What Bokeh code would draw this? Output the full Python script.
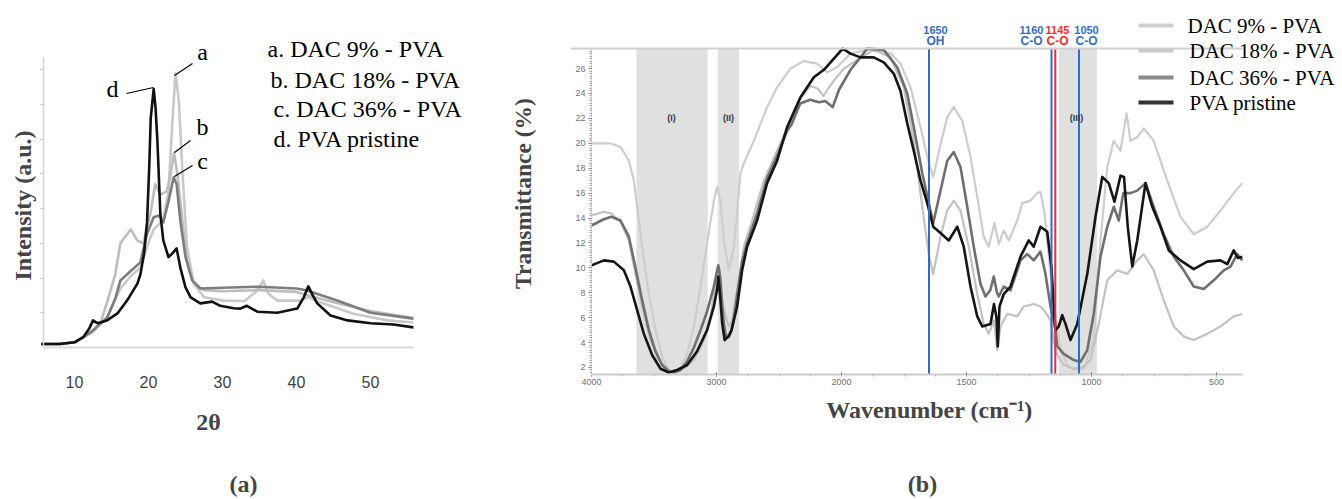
import numpy as np
from bokeh.plotting import figure
from bokeh.models import Range1d, Label, BoxAnnotation, FixedTicker, LinearAxis
from bokeh.layouts import row
from bokeh.embed import file_html
from bokeh.resources import INLINE

# ---------------- XRD data (panel a) ----------------
xrd_a_x = [5.5, 8, 10, 11.2, 12.5, 14.4, 16.2, 17.6, 18.9, 19.8, 20.7, 21.4, 22.0, 22.7, 23.2,
           23.65, 24.1, 24.6, 25.2, 26.1, 27.5, 30, 33, 34.7, 35.5, 36.2, 37.4, 40.5, 41.6,
           43.2, 47.7, 52.3, 55.8]
xrd_a_y = [0.1, 0.1, 0.15, 0.3, 0.5, 0.85, 1.7, 2.05, 2.3, 2.9, 3.4, 3.55, 3.7, 4.5, 6.4,
           7.9, 7.1, 5.0, 2.9, 1.85, 1.45, 1.35, 1.34, 1.64, 1.93, 1.55, 1.35, 1.35, 1.45,
           1.3, 0.97, 0.78, 0.72]
xrd_b_x = [5.5, 8, 10, 11.2, 12.5, 13.5, 14.4, 15.5, 16.2, 16.9, 17.6, 18.5, 19.3, 20.3, 20.9,
           21.6, 22.5, 23.0, 23.45, 23.9, 24.6, 25.2, 26.1, 27.5, 30, 35, 40, 41.6, 45, 50, 55.8]
xrd_b_y = [0.1, 0.1, 0.15, 0.3, 0.45, 0.7, 1.3, 2.1, 3.0, 3.2, 3.4, 3.08, 3.0, 3.9, 4.7,
           4.4, 4.5, 5.0, 5.6, 5.0, 3.6, 2.5, 1.85, 1.65, 1.62, 1.65, 1.6, 1.5, 1.3, 1.05, 0.85]
xrd_c_x = [5.5, 8, 10, 11.2, 12.5, 14.4, 15.5, 16.2, 17.6, 18.9, 19.8, 20.7, 21.4, 22.0, 22.7,
           23.4, 23.8, 24.3, 25.0, 25.9, 27.0, 30, 35, 40, 41.3, 45.5, 50, 55.8]
xrd_c_y = [0.1, 0.1, 0.15, 0.3, 0.49, 0.86, 1.4, 1.93, 2.2, 2.45, 3.27, 3.75, 3.8, 3.6, 4.2,
           4.9, 4.7, 3.65, 2.6, 1.93, 1.7, 1.72, 1.75, 1.7, 1.65, 1.35, 1.0, 0.83]
xrd_d_x = [5.5, 8, 10, 11.2, 12.0, 12.5, 13.1, 14.4, 15.8, 17.1, 18.5, 18.9, 19.4, 19.8, 20.1,
           20.3, 20.7, 20.95, 21.2, 21.6, 22.0, 22.7, 23.2, 23.8, 24.3, 25.0, 25.7, 27.0, 28.6,
           29.7, 31.5, 32.4, 33.3, 34.7, 37.4, 40.1, 41.0, 41.6, 42.2, 42.8, 44.6, 46.9, 50,
           53.1, 55.8]
xrd_d_y = [0.1, 0.1, 0.15, 0.3, 0.55, 0.78, 0.7, 0.78, 0.98, 1.35, 1.84, 2.1, 2.7, 3.6, 5.2,
           6.6, 7.44, 6.9, 5.96, 3.85, 3.08, 2.6, 2.7, 2.85, 2.3, 1.73, 1.44, 1.27, 1.32,
           1.2, 1.13, 1.12, 1.2, 1.03, 1.0, 1.12, 1.45, 1.76, 1.5, 1.27, 0.92, 0.78, 0.7,
           0.66, 0.58]
xrd_ticks = [10, 20, 30, 40, 50]
xrd_curve_tags = ["a", "b", "c", "d"]
xrd_legend = ["a. DAC 9% - PVA", "b. DAC 18% - PVA", "c. DAC 36% - PVA", "d. PVA pristine"]

# ---------------- FTIR data (panel b) ----------------
ftir9_w = [4000, 3900, 3848, 3768, 3701, 3661, 3635, 3595, 3541, 3488, 3435, 3381, 3341, 3288,
           3235, 3181, 3128, 3075, 3021, 2995, 2968, 2941, 2901, 2861, 2835, 2808, 2781, 2701,
           2595, 2515, 2408, 2301, 2195, 2115, 2035, 1964, 1871, 1804, 1764, 1724, 1684, 1657,
           1633, 1604, 1577, 1551, 1517, 1484, 1457, 1431, 1411, 1388, 1371, 1351, 1331, 1297,
           1277, 1244, 1217, 1204, 1188, 1164, 1144, 1124, 1097, 1071, 1031, 991, 964, 937,
           911, 884, 860, 844, 817, 791, 751, 697, 644, 591, 537, 484, 431, 397]
ftir9_t = [20.0, 20.0, 20.0, 19.7, 18.6, 17.0, 14.9, 11.7, 7.9, 5.0, 2.86, 1.8, 1.65, 1.9,
           3.1, 5.3, 8.5, 12.0, 15.4, 16.5, 15.4, 12.2, 9.8, 11.7, 14.4, 17.6, 18.4, 20.2,
           22.9, 24.5, 26.0, 26.6, 26.4, 25.7, 26.1, 27.2, 27.6, 27.2, 26.4, 24.5, 21.3, 18.9,
           17.3, 19.9, 22.1, 22.9, 21.8, 18.9, 15.7, 12.5, 11.7, 13.6, 11.9, 13.0, 12.2, 13.8,
           15.2, 15.4, 16.0, 16.1, 14.4, 9.5, 6.3, 3.4, 2.2, 1.8, 1.9, 4.2, 12.2, 18.1,
           20.2, 19.4, 22.4, 20.2, 20.5, 21.2, 20.2, 17.0, 14.1, 12.7, 13.3, 14.6, 16.0, 16.8]
ftir18_w = [4000, 3901, 3848, 3768, 3701, 3648, 3595, 3528, 3461, 3395, 3341, 3261, 3181, 3101,
            3048, 2995, 2976, 2955, 2928, 2901, 2875, 2835, 2781, 2715, 2621, 2515, 2400, 2330,
            2250, 2190, 2145, 2100, 2040, 1990, 1937, 1871, 1804, 1751, 1711, 1677, 1651, 1633,
            1604, 1577, 1551, 1524, 1491, 1457, 1431, 1411, 1391, 1377, 1364, 1337, 1297, 1271,
            1231, 1204, 1190, 1164, 1150, 1137, 1111, 1071, 1031, 1004, 971, 937, 897, 857,
            817, 791, 751, 711, 671, 631, 591, 537, 484, 431, 397]
ftir18_t = [14.2, 14.5, 14.4, 13.7, 12.2, 9.5, 6.9, 4.2, 2.6, 1.8, 1.65, 1.9, 2.6, 4.2,
            6.1, 9.5, 9.8, 7.4, 6.1, 5.3, 5.8, 8.2, 11.7, 13.8, 17.0, 19.4, 22.0, 23.6,
            24.6, 24.4, 23.8, 24.5, 25.3, 26.0, 26.7, 27.5, 26.9, 24.5, 20.2, 14.9, 11.1, 9.5,
            12.5, 14.6, 15.4, 14.6, 11.7, 7.9, 5.5, 4.7, 5.8, 3.4, 5.3, 6.3, 6.1, 6.9,
            7.1, 6.9, 6.6, 5.8, 4.0, 3.0, 2.2, 1.9, 2.05, 2.6, 5.5, 9.0, 9.8, 9.5,
            10.6, 11.1, 9.8, 7.4, 5.3, 4.5, 4.2, 4.7, 5.3, 6.1, 6.3]
ftir36_w = [4000, 3901, 3841, 3768, 3701, 3648, 3595, 3541, 3488, 3435, 3381, 3341, 3288, 3235,
            3181, 3128, 3075, 3021, 2995, 2985, 2968, 2955, 2941, 2925, 2901, 2880, 2861, 2835,
            2795, 2755, 2675, 2595, 2515, 2435, 2400, 2330, 2250, 2180, 2130, 2070, 2020, 1964,
            1924, 1897, 1831, 1777, 1737, 1711, 1677, 1633, 1604, 1577, 1551, 1524, 1497, 1471,
            1444, 1424, 1405, 1391, 1378, 1371, 1351, 1324, 1284, 1257, 1231, 1204, 1184, 1164,
            1144, 1137, 1111, 1071, 1044, 1017, 991, 964, 937, 911, 891, 873, 844, 817, 784,
            751, 711, 671, 631, 591, 551, 511, 471, 444, 417, 397]
ftir36_t = [13.4, 13.9, 14.1, 13.8, 12.5, 10.0, 7.4, 5.0, 3.3, 2.2, 1.7, 1.6, 1.8, 2.5,
            3.6, 5.0, 6.5, 8.5, 9.8, 10.2, 9.0, 7.0, 5.5, 4.5, 4.6, 5.0, 6.0, 7.8,
            10.5, 12.0, 14.4, 17.2, 19.0, 21.0, 21.5, 23.2, 23.5, 23.3, 23.4, 22.9, 24.3, 25.9,
            26.9, 27.6, 27.5, 26.1, 24.0, 21.3, 17.6, 13.6, 16.2, 18.6, 19.3, 18.1, 14.9, 11.7,
            8.7, 7.7, 8.2, 9.3, 8.0, 7.7, 8.5, 8.2, 10.6, 11.1, 10.6, 11.3, 9.5, 6.9,
            5.0, 3.7, 3.1, 2.6, 2.45, 3.4, 6.3, 10.9, 13.3, 14.9, 13.8, 16.0, 16.0, 16.2, 16.8,
            14.9, 12.7, 10.9, 9.8, 8.5, 8.3, 9.0, 9.8, 10.1, 11.1, 10.6]
ftirpva_w = [4000, 3901, 3821, 3741, 3688, 3635, 3581, 3515, 3448, 3381, 3315, 3235, 3155, 3075,
             3021, 2995, 2985, 2970, 2955, 2935, 2915, 2901, 2880, 2835, 2795, 2755, 2675, 2595,
             2515, 2435, 2328, 2221, 2141, 2061, 1995, 1964, 1924, 1871, 1831, 1791, 1764, 1737,
             1711, 1684, 1657, 1633, 1604, 1571, 1537, 1511, 1484, 1457, 1437, 1404, 1390, 1380,
             1375, 1368, 1351, 1324, 1284, 1251, 1231, 1204, 1177, 1160, 1150, 1144, 1131, 1117,
             1104, 1084, 1057, 1017, 984, 957, 931, 908, 884, 870, 855, 837, 817, 784, 757,
             724, 691, 644, 591, 537, 484, 457, 431, 415, 397]
ftirpva_t = [10.2, 10.6, 10.5, 9.8, 8.5, 6.6, 4.7, 3.0, 1.9, 1.6, 1.8, 2.2, 3.3, 5.0,
             6.9, 8.3, 9.3, 7.6, 5.6, 4.2, 4.4, 4.5, 5.0, 6.9, 9.8, 11.7, 13.8, 16.8,
             18.6, 21.3, 23.7, 25.3, 25.9, 26.8, 27.6, 27.2, 26.9, 26.9, 26.5, 25.6, 24.2, 21.6,
             19.4, 17.0, 15.2, 13.3, 12.8, 12.2, 13.3, 11.7, 8.5, 6.1, 5.3, 5.5, 7.1, 6.0,
             3.7, 6.9, 7.9, 8.5, 10.9, 12.2, 11.7, 13.3, 12.9, 10.0, 6.5, 5.0, 5.3, 6.2,
             5.5, 4.2, 5.5, 9.5, 14.1, 17.3, 16.8, 15.3, 17.4, 17.3, 13.3, 10.1, 12.2, 16.8, 14.9,
             13.3, 11.4, 10.6, 9.9, 10.5, 10.6, 10.3, 11.4, 10.8, 10.9]
ftir_ticks_w = [4000, 3000, 2000, 1500, 1000, 500]
ftir_names = ["DAC 9% - PVA", "DAC 18% - PVA", "DAC 36% - PVA", "PVA pristine"]
band_edges_w = [(3640, 3070), (2990, 2820), (1130, 978)]
band_names = ["(I)", "(II)", "(III)"]
mark_w = [1650, 1160, 1145, 1050]
mark_num = ["1650", "1160", "1145", "1050"]
mark_grp = ["OH", "C-O", "C-O", "C-O"]


def wn_to_u(w):
    """Split FTIR wavenumber scale: 4000-2000 compressed 2x, 2000-400 linear."""
    w = np.asarray(w, dtype=float)
    return np.where(w >= 2000, (4000.0 - w) / 2.0, 1000.0 + (2000.0 - w))


SERIF = "Liberation Serif"
SANS = "Liberation Sans"
PAGE_H = 497

# ================= Panel (a) =================
# plot box of panel a: page x 43..413 -> 2theta 5.81..55.81 ; page y 347..57 -> 0..8.345
AX0, AX1, AY0, AY1 = 5.81, 55.81, 0.0, 8.345
A_ORG, A_W = 0, 478


def apx(page_x):
    return AX0 + (page_x - 43) / 7.4


def apy(page_y):
    return (347 - page_y) / 34.75


pa = figure(width=A_W, height=PAGE_H, output_backend="svg", toolbar_location=None,
            x_range=Range1d(apx(A_ORG), apx(A_ORG + A_W)), y_range=Range1d(apy(PAGE_H), apy(0)),
            min_border=0, x_axis_type=None, y_axis_type=None)
pa.xgrid.visible = False
pa.ygrid.visible = False
pa.outline_line_color = None

xa = LinearAxis(fixed_location=AY0, bounds=(AX0, AX1), ticker=FixedTicker(ticks=xrd_ticks),
                axis_line_color="#dadada", axis_line_width=2, major_tick_line_color=None,
                minor_tick_line_color=None, major_label_text_font=SANS,
                major_label_text_font_size="16px", major_label_text_color="#404040",
                major_label_standoff=22)
pa.add_layout(xa, "below")
ya = LinearAxis(fixed_location=AX0, bounds=(AY0, AY1),
                ticker=FixedTicker(ticks=[1, 2, 3, 4, 5, 6, 7, 8]),
                axis_line_color="#d4d4d4", axis_line_width=1.5, major_tick_line_color="#bbbbbb",
                major_tick_out=3, major_tick_in=0, minor_tick_line_color=None,
                major_label_text_color=None, major_label_text_font_size="1px")
pa.add_layout(ya, "left")

pa.line(xrd_a_x, xrd_a_y, line_color="#c9c9c9", line_width=2.6, line_join="round")
pa.line(xrd_b_x, xrd_b_y, line_color="#bdbdbd", line_width=2.6, line_join="round")
pa.line(xrd_c_x, xrd_c_y, line_color="#7d7d7d", line_width=2.6, line_join="round")
pa.line(xrd_d_x, xrd_d_y, line_color="#111111", line_width=2.6, line_join="round")

# leader lines for curve tags (page px)
lead = [((174, 75), (192, 63)), ((174, 152), (190, 140)), ((174, 176), (192, 165)),
        ((126, 93), (153, 87))]
pa.segment(x0=[apx(a[0]) for a, b in lead], y0=[apy(a[1]) for a, b in lead],
           x1=[apx(b[0]) for a, b in lead], y1=[apy(b[1]) for a, b in lead],
           line_color="black", line_width=1.2)

for txt, (px, py) in zip(xrd_curve_tags, [(202, 51), (202, 126), (202, 160), (112, 88)]):
    pa.add_layout(Label(x=apx(px), y=apy(py), text=txt, text_font=SERIF, text_font_size="24px",
                        text_align="center", text_baseline="middle", text_color="black"))

for txt, (px, py) in zip(xrd_legend, [(267, 48), (270, 79), (273, 108), (273, 138)]):
    pa.add_layout(Label(x=apx(px), y=apy(py), text=txt, text_font=SERIF, text_font_size="24px",
                        text_align="left", text_baseline="middle", text_color="black"))

pa.add_layout(Label(x=apx(22), y=apy(205), text="Intensity (a.u.)", angle=np.pi / 2,
                    text_font=SERIF, text_font_size="24px", text_font_style="bold",
                    text_align="center", text_baseline="middle"))
pa.add_layout(Label(x=apx(208), y=apy(421), text="2θ", text_font=SERIF, text_font_size="24px",
                    text_font_style="bold", text_align="center", text_baseline="middle"))
pa.add_layout(Label(x=apx(243), y=apy(483), text="(a)", text_font=SERIF, text_font_size="24px",
                    text_font_style="bold", text_align="center", text_baseline="middle"))

# ================= Panel (b) =================
# plot box of panel b: page x 591..1242 -> u 0..2604 ; page y 374..48 -> 1.438..27.61
BU0, BU1, BY0, BY1 = 0.0, 2604.0, 1.438, 27.61
B_ORG, B_W = 478, 862
B_YPX = 326.0 / (BY1 - BY0)


def bpx(page_x):
    return BU0 + (page_x - 591) * 4.0


def bpy(page_y):
    return BY0 + (374 - page_y) / B_YPX


pb = figure(width=B_W, height=PAGE_H, output_backend="svg", toolbar_location=None,
            x_range=Range1d(bpx(B_ORG), bpx(B_ORG + B_W)), y_range=Range1d(bpy(PAGE_H), bpy(0)),
            min_border=0, x_axis_type=None, y_axis_type=None)
pb.xgrid.visible = False
pb.ygrid.visible = False
pb.outline_line_color = None

for (w0, w1) in band_edges_w:
    pb.add_layout(BoxAnnotation(left=float(wn_to_u(w0)), right=float(wn_to_u(w1)),
                                top=BY1, bottom=BY0, fill_color="#e0e0e0", fill_alpha=1.0,
                                line_color=None, level="underlay"))

tick_u = [float(v) for v in wn_to_u(ftir_ticks_w)]
xb = LinearAxis(fixed_location=BY0, bounds=(BU0, BU1),
                ticker=FixedTicker(ticks=tick_u, minor_ticks=list(range(0, 2601, 125))),
                major_label_overrides={u: str(w) for u, w in zip(tick_u, ftir_ticks_w)},
                axis_line_color="#cccccc", axis_line_width=2, major_tick_line_color="#666666",
                major_tick_out=2, major_tick_in=2, minor_tick_line_color="#bbbbbb",
                minor_tick_out=2, minor_tick_in=0, major_label_text_font=SANS,
                major_label_text_font_size="9px", major_label_text_color="#707070",
                major_label_standoff=2)
pb.add_layout(xb, "below")
yb = LinearAxis(fixed_location=BU0, bounds=(BY0, BY1),
                ticker=FixedTicker(ticks=list(range(2, 27, 2)),
                                   minor_ticks=[round(v, 2) for v in np.arange(1.6, 27.6, 0.2)]),
                axis_line_color="#d0d0d0", axis_line_width=1, major_tick_line_color="#666666",
                major_tick_out=3, major_tick_in=0, minor_tick_line_color="#a0a0a0",
                minor_tick_out=2, minor_tick_in=0, major_label_text_font=SANS,
                major_label_text_font_size="9px", major_label_text_color="#707070",
                major_label_standoff=3)
pb.add_layout(yb, "left")
tb = LinearAxis(fixed_location=BY1, bounds=(bpx(570), BU1), ticker=FixedTicker(ticks=[]),
                axis_line_color="#cfcfcf", axis_line_width=2, major_tick_line_color=None,
                minor_tick_line_color=None, major_label_text_font_size="1px",
                major_label_text_color=None)
pb.add_layout(tb, "above")

ftir_colors = ["#cdcdcd", "#c2c2c2", "#6f6f6f", "#151515"]
ftir_widths = [2.2, 2.2, 2.6, 2.6]
for w, t, c, lw in zip([ftir9_w, ftir18_w, ftir36_w, ftirpva_w],
                       [ftir9_t, ftir18_t, ftir36_t, ftirpva_t], ftir_colors, ftir_widths):
    pb.line(wn_to_u(w), t, line_color=c, line_width=lw, line_join="round")

mark_colors = ["#2f6fbf", "#2f6fbf", "#ff2b2b", "#2f6fbf"]
mark_u = [float(v) for v in wn_to_u(mark_w)]
pb.segment(x0=mark_u, x1=mark_u, y0=[BY0] * 4, y1=[BY1] * 4, line_color=mark_colors, line_width=2)

for num, grp, px, c in zip(mark_num, mark_grp, [935, 1031, 1057, 1086], mark_colors):
    pb.add_layout(Label(x=bpx(px), y=bpy(29), text=num, text_font=SANS,
                        text_font_style="bold", text_font_size="11px", text_color=c,
                        text_align="center", text_baseline="middle"))
    pb.add_layout(Label(x=bpx(px), y=bpy(40), text=grp, text_font=SANS,
                        text_font_style="bold", text_font_size="12px", text_color=c,
                        text_align="center", text_baseline="middle"))

for txt, px in zip(band_names, [671, 728, 1076]):
    pb.add_layout(Label(x=bpx(px), y=bpy(117), text=txt, text_font=SANS,
                        text_font_style="bold", text_font_size="9px", text_color="#34384a",
                        text_align="center", text_baseline="middle"))

# legend (line keys + names) at the top right
leg_y = [25, 50, 77, 102]
leg_colors = ["#cfcfcf", "#c6c6c6", "#8a8a8a", "#333333"]
pb.segment(x0=[bpx(1138)] * 4, x1=[bpx(1173)] * 4, y0=[bpy(v) for v in leg_y],
           y1=[bpy(v) for v in leg_y], line_color=leg_colors, line_width=4)
for name, yy, xx in zip(ftir_names, leg_y, [1187, 1189, 1189, 1189]):
    pb.add_layout(Label(x=bpx(xx), y=bpy(yy), text=name, text_font=SERIF,
                        text_font_size="21px", text_align="left", text_baseline="middle",
                        text_color="black"))

pb.add_layout(Label(x=bpx(522), y=bpy(193), text="Transmittance (%)", angle=np.pi / 2,
                    text_font=SERIF, text_font_size="23.5px", text_font_style="bold",
                    text_align="center", text_baseline="middle"))
pb.add_layout(Label(x=bpx(929), y=bpy(409), text="Wavenumber (cm⁻¹)", text_font=SERIF,
                    text_font_size="24px", text_font_style="bold", text_align="center",
                    text_baseline="middle"))
pb.add_layout(Label(x=bpx(922), y=bpy(483), text="(b)", text_font=SERIF, text_font_size="24px",
                    text_font_style="bold", text_align="center", text_baseline="middle"))

layout = row(pa, pb, spacing=0)
open("out.html", "w").write(file_html(layout, INLINE))
